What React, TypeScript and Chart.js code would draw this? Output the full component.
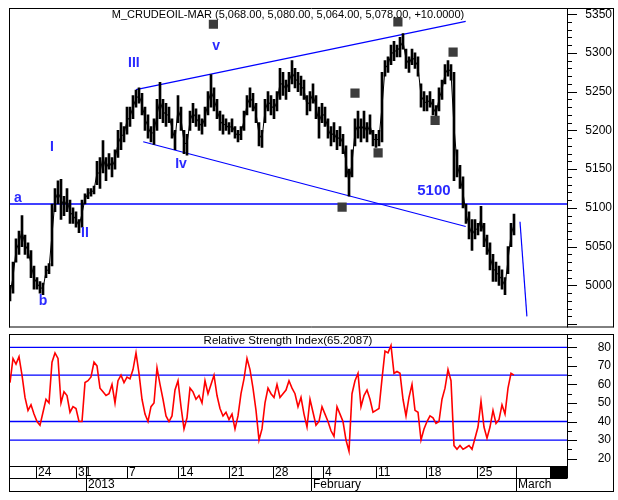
import React, { useEffect, useRef } from "react";
import { Chart, registerables } from "chart.js";
Chart.register(...registerables);

// ---- DATA ----
const priceLow = [
  4980, 4990, 5030, 5040, 5050, 5040, 5035, 5010, 4995, 4995, 4990, 4988, 5010, 5015, 5025, 5095, 5105, 5085, 5090, 5095,
  5080, 5080, 5075, 5068, 5075, 5105, 5112, 5115, 5118, 5130, 5125, 5145, 5135, 5150, 5140, 5150, 5165, 5175, 5185, 5195,
  5205, 5215, 5230, 5235, 5220, 5200, 5190, 5185, 5182, 5200, 5215, 5210, 5205, 5210, 5190, 5175, 5210, 5200, 5170, 5168,
  5200, 5210, 5205, 5200, 5195, 5205, 5220, 5230, 5225, 5215, 5200, 5195, 5200, 5195, 5198, 5190, 5185, 5188, 5200, 5220,
  5230, 5225, 5210, 5180, 5178, 5210, 5225, 5220, 5215, 5225, 5240, 5245, 5240, 5250, 5260, 5255, 5250, 5245, 5240, 5220,
  5225, 5235, 5215, 5190, 5210, 5205, 5190, 5180, 5185, 5175, 5180, 5170, 5140, 5115, 5140, 5180, 5190, 5185, 5190, 5185,
  5195, 5180, 5178, 5180, 5185, 5270, 5275, 5285, 5290, 5295, 5295, 5305, 5280, 5275, 5285, 5280, 5270, 5230, 5225, 5225,
  5230, 5220, 5212, 5225, 5240, 5260, 5270, 5265, 5135, 5140, 5125, 5100, 5080, 5060, 5045, 5060, 5065, 5070, 5050, 5040,
  5020, 5005, 5005, 5000, 4995, 4988, 5015, 5050, 5065,
];
const priceHigh = [
  5000, 5030, 5060, 5070, 5090, 5065, 5055, 5045, 5025, 5010, 5005, 5003, 5025, 5028, 5105, 5125, 5135, 5137, 5115, 5125,
  5110, 5100, 5095, 5085, 5110, 5118, 5125, 5125, 5128, 5160, 5165, 5187, 5165, 5170, 5165, 5175, 5200, 5210, 5205, 5230,
  5230, 5245, 5252, 5255, 5248, 5230, 5220, 5205, 5215, 5240, 5262, 5240, 5235, 5230, 5215, 5200, 5245, 5230, 5200, 5195,
  5225, 5235, 5228, 5220, 5215, 5230, 5250, 5272, 5255, 5240, 5225, 5220, 5215, 5210, 5215, 5205, 5200, 5205, 5225, 5245,
  5255, 5248, 5235, 5210, 5200, 5240, 5250, 5245, 5240, 5250, 5280, 5275, 5265, 5275, 5290, 5280, 5275, 5270, 5265, 5245,
  5250, 5260, 5245, 5230, 5235, 5230, 5215, 5205, 5210, 5200, 5205, 5195, 5180, 5150, 5175, 5215, 5225, 5215, 5225, 5210,
  5220, 5200, 5195, 5200, 5275, 5290, 5295, 5310, 5315, 5310, 5320, 5325, 5305, 5295, 5305, 5300, 5295, 5260, 5250, 5245,
  5250, 5240, 5232, 5255, 5265, 5285, 5290, 5285, 5275, 5175, 5155, 5140, 5105, 5095, 5085, 5085, 5080, 5102, 5080, 5065,
  5055, 5040, 5030, 5025, 5020, 5010, 5050, 5080, 5092,
];
const rsiValues = [
  61, 74, 71, 75, 65, 53, 46, 49, 44, 40, 38, 45, 52, 50, 72, 77, 74, 50, 56, 54,
  45, 48, 47, 40, 40, 61, 62, 64, 72, 70, 58, 56, 54, 55, 60, 50, 62, 65, 61, 64,
  63, 68, 77, 66, 52, 44, 40, 48, 50, 69, 60, 52, 43, 40, 43, 57, 62, 48, 36, 42,
  58, 56, 52, 54, 50, 62, 55, 60, 65, 54, 47, 43, 45, 41, 44, 36, 43, 55, 63, 74,
  68, 58, 46, 30, 36, 50, 58, 55, 53, 60, 53, 55, 57, 62, 58, 55, 48, 53, 44, 37,
  52, 45, 38, 40, 48, 44, 40, 35, 32, 48, 44, 40, 30, 24, 55, 62, 66, 48, 54, 57,
  52, 45, 46, 47, 63, 78, 77, 81, 66, 67, 66, 52, 43, 53, 60, 46, 45, 30, 36, 40,
  43, 42, 39, 40, 52, 58, 68, 62, 27, 25, 27, 25, 26, 27, 25, 31, 37, 51, 37, 31,
  37, 46, 39, 41, 49, 44, 58, 66, 65,
];
const dayTicks = [8.67, 22, 39, 56, 73, 87.67, 104.33, 122, 138.67, 155.67];
const dayLabels = ["24", "31", "7", "14", "21", "28", "4", "11", "18", "25"];
const monthTicks = [25.33, 100.33, 168.67];
const monthLabels = ["2013", "February", "March"];
const blockStart = 180;
const waveText = ["III", "v", "I", "Iv", "a", "II", "b", "5100"];
const waveX = [41.3, 68.7, 14, 57, 2.67, 25, 11, 141.3];
const waveY = [5287, 5309, 5178, 5156, 5112, 5067, 4979, 5122];
const markerX = [67.8, 129.3, 147.7, 115, 122.7, 141.7, 110.7];
const markerY = [5337, 5340, 5301, 5248, 5171, 5213, 5101];
const upperTrendX = [42, 151.9];
const upperTrendY = [5252.6, 5340.8];
const lowerTrendX = [44.4, 151.9];
const lowerTrendY = [5185.4, 5076];
const projectionX = [170, 172.3];
const projectionY = [5082, 4960];
const supportLevel = 5105;
const rsiLevels = [80, 65, 40, 30];
const priceTitle = "M_CRUDEOIL-MAR (5,068.00, 5,080.00, 5,064.00, 5,078.00, +10.0000)";
const rsiTitle = "Relative Strength Index(65.2087)";

const X_MIN = -1 / 3;
const X_MAX = 185.667;
const FONT = '"Liberation Sans", Arial, sans-serif';
const BLUE = "#0000ff";
const LABEL_BLUE = "#2a2aff";

const pricePlugin = {
  id: "priceDecor",
  afterDatasetsDraw(chart: any) {
    const { ctx, scales } = chart;
    const xs = scales.x;
    const ys = scales.y;
    ctx.save();
    ctx.fillStyle = LABEL_BLUE;
    ctx.textAlign = "center";
    ctx.textBaseline = "middle";
    waveText.forEach((t, i) => {
      ctx.font = (t === "5100" ? "bold 15px " : "bold 14px ") + FONT;
      ctx.fillText(t, xs.getPixelForValue(waveX[i]), ys.getPixelForValue(waveY[i]));
    });
    ctx.restore();
  },
  afterDraw(chart: any) {
    const { ctx, chartArea: a, scales } = chart;
    const ys = scales.y;
    const W = chart.width;
    const outer = W - 4.5;
    ctx.save();
    ctx.strokeStyle = "#000";
    ctx.lineWidth = 1;
    ctx.beginPath();
    ctx.moveTo(a.left + 0.5, a.top + 0.5);
    ctx.lineTo(outer, a.top + 0.5);
    ctx.moveTo(a.left + 0.5, a.top);
    ctx.lineTo(a.left + 0.5, a.bottom);
    ctx.moveTo(a.right + 0.5, a.top);
    ctx.lineTo(a.right + 0.5, a.bottom);
    ctx.moveTo(outer, a.top);
    ctx.lineTo(outer, a.bottom);
    ctx.moveTo(a.left, a.bottom - 0.5);
    ctx.lineTo(outer, a.bottom - 0.5);
    for (let v = 4950; v <= 5350; v += 10) {
      const py = Math.round(ys.getPixelForValue(v)) + 0.5;
      const len = v % 50 === 0 ? 10 : 5;
      ctx.moveTo(a.right, py);
      ctx.lineTo(a.right + len, py);
    }
    ctx.stroke();
    ctx.fillStyle = "#000";
    ctx.font = "12px " + FONT;
    ctx.textAlign = "right";
    ctx.textBaseline = "middle";
    for (let v = 5000; v <= 5350; v += 50) {
      ctx.fillText(String(v), W - 6, ys.getPixelForValue(v));
    }
    ctx.font = "11px " + FONT;
    ctx.textAlign = "center";
    ctx.fillText(priceTitle, (a.left + a.right) / 2, a.top + 7);
    ctx.restore();
  },
};

const rsiPlugin = {
  id: "rsiDecor",
  beforeDatasetsDraw(chart: any) {
    const { ctx, chartArea: a, scales } = chart;
    const ys = scales.y;
    ctx.save();
    ctx.strokeStyle = BLUE;
    ctx.lineWidth = 1.3;
    ctx.beginPath();
    rsiLevels.forEach((v) => {
      const py = ys.getPixelForValue(v);
      ctx.moveTo(a.left, py);
      ctx.lineTo(a.right, py);
    });
    ctx.stroke();
    ctx.restore();
  },
  afterDraw(chart: any) {
    const { ctx, chartArea: a, scales } = chart;
    const xs = scales.x;
    const ys = scales.y;
    const W = chart.width;
    const outer = W - 4.5;
    const row1 = a.bottom + 12;
    const row2 = a.bottom + 25;
    ctx.save();
    ctx.fillStyle = "#000";
    const bx = xs.getPixelForValue(blockStart);
    ctx.fillRect(bx, a.bottom, a.right - bx, 12);
    ctx.strokeStyle = "#000";
    ctx.lineWidth = 1;
    ctx.beginPath();
    ctx.moveTo(a.left, a.top + 0.5);
    ctx.lineTo(outer, a.top + 0.5);
    ctx.moveTo(a.left + 0.5, a.top);
    ctx.lineTo(a.left + 0.5, row2 + 0.5);
    ctx.moveTo(a.right + 0.5, a.top);
    ctx.lineTo(a.right + 0.5, row1 + 0.5);
    ctx.moveTo(outer, a.top);
    ctx.lineTo(outer, row2 + 1);
    ctx.moveTo(a.left, a.bottom + 0.5);
    ctx.lineTo(a.right, a.bottom + 0.5);
    ctx.moveTo(a.left, row1 + 0.5);
    ctx.lineTo(a.right, row1 + 0.5);
    ctx.moveTo(a.left, row2 + 0.5);
    ctx.lineTo(outer, row2 + 0.5);
    dayTicks.forEach((t) => {
      const px = Math.round(xs.getPixelForValue(t)) + 0.5;
      ctx.moveTo(px, a.bottom);
      ctx.lineTo(px, row1);
    });
    monthTicks.forEach((t) => {
      const px = Math.round(xs.getPixelForValue(t)) + 0.5;
      ctx.moveTo(px, a.bottom);
      ctx.lineTo(px, row2);
    });
    for (let v = 20; v <= 85; v += 5) {
      const py = Math.round(ys.getPixelForValue(v)) + 0.5;
      const len = v % 10 === 0 ? 10 : 5;
      ctx.moveTo(a.right, py);
      ctx.lineTo(a.right + len, py);
    }
    ctx.stroke();
    ctx.font = "12px " + FONT;
    ctx.textAlign = "left";
    ctx.textBaseline = "middle";
    dayTicks.forEach((t, i) => {
      ctx.fillText(dayLabels[i], xs.getPixelForValue(t) + 2, a.bottom + 6.5);
    });
    monthTicks.forEach((t, i) => {
      ctx.fillText(monthLabels[i], xs.getPixelForValue(t) + 2, row1 + 6.5);
    });
    ctx.textAlign = "right";
    for (let v = 20; v <= 80; v += 10) {
      ctx.fillText(String(v), W - 7, ys.getPixelForValue(v));
    }
    ctx.font = "11.5px " + FONT;
    ctx.textAlign = "center";
    ctx.fillText(rsiTitle, (a.left + a.right) / 2, a.top + 7);
    ctx.restore();
  },
};

export default function App() {
  const priceRef = useRef<HTMLCanvasElement>(null);
  const rsiRef = useRef<HTMLCanvasElement>(null);

  useEffect(() => {
    const xScale = {
      type: "linear" as const,
      display: false,
      min: X_MIN,
      max: X_MAX,
      offset: false,
    };
    const price = new Chart(priceRef.current!, {
      type: "bar",
      data: {
        datasets: [
          {
            type: "scatter" as any,
            data: markerX.map((x, i) => ({ x, y: markerY[i] })),
            pointStyle: "rect",
            pointRadius: 6.5,
            backgroundColor: "#3c3c3c",
            borderWidth: 0,
            order: 0,
          } as any,
          {
            type: "bar",
            data: priceLow.map((l, i) => ({ x: i, y: [l, priceHigh[i]] })),
            backgroundColor: "#000",
            barThickness: 2,
            grouped: false,
            order: 1,
          } as any,
          {
            type: "line",
            data: priceLow.map((l, i) => ({ x: i, y: (l + priceHigh[i]) / 2 })),
            borderColor: "#000",
            borderWidth: 1,
            pointRadius: 0,
            order: 1,
          },
          {
            type: "line",
            data: upperTrendX.map((x, i) => ({ x, y: upperTrendY[i] })),
            borderColor: BLUE,
            borderWidth: 1.2,
            pointRadius: 0,
            order: 2,
          },
          {
            type: "line",
            data: lowerTrendX.map((x, i) => ({ x, y: lowerTrendY[i] })),
            borderColor: BLUE,
            borderWidth: 1.2,
            pointRadius: 0,
            order: 2,
          },
          {
            type: "line",
            data: projectionX.map((x, i) => ({ x, y: projectionY[i] })),
            borderColor: BLUE,
            borderWidth: 1.2,
            pointRadius: 0,
            order: 2,
          },
          {
            type: "line",
            data: [
              { x: X_MIN, y: supportLevel },
              { x: X_MAX, y: supportLevel },
            ],
            borderColor: BLUE,
            borderWidth: 1.3,
            pointRadius: 0,
            order: 3,
          },
        ],
      },
      options: {
        responsive: false,
        animation: false,
        devicePixelRatio: 1,
        events: [],
        layout: { padding: { left: 9, top: 8, right: 51, bottom: 0 } },
        scales: {
          x: xScale,
          y: { type: "linear", display: false, min: 4945.6, max: 5358 },
        },
        plugins: { legend: { display: false }, tooltip: { enabled: false } },
      },
      plugins: [pricePlugin],
    } as any);

    const rsi = new Chart(rsiRef.current!, {
      type: "line",
      data: {
        datasets: [
          {
            data: rsiValues.map((v, i) => ({ x: i, y: v })),
            borderColor: "#ff0000",
            borderWidth: 1.6,
            pointRadius: 0,
            tension: 0,
          },
        ],
      },
      options: {
        responsive: false,
        animation: false,
        devicePixelRatio: 1,
        events: [],
        layout: { padding: { left: 9, top: 0, right: 51, bottom: 34 } },
        scales: {
          x: xScale,
          y: { type: "linear", display: false, min: 16, max: 87.2 },
        },
        plugins: { legend: { display: false }, tooltip: { enabled: false } },
      },
      plugins: [rsiPlugin],
    } as any);

    return () => {
      price.destroy();
      rsi.destroy();
    };
  }, []);

  return (
    <div style={{ position: "absolute", left: 0, top: 0, width: 618, height: 500, background: "#fff" }}>
      <canvas ref={priceRef} width={618} height={334} style={{ position: "absolute", left: 0, top: 0 }} />
      <canvas ref={rsiRef} width={618} height={166} style={{ position: "absolute", left: 0, top: 334 }} />
    </div>
  );
}
